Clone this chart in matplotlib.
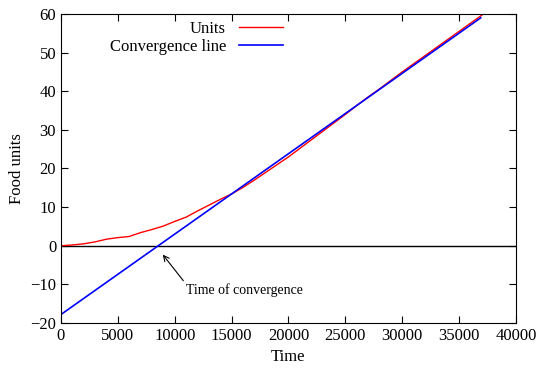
import matplotlib
matplotlib.use("Agg")
import matplotlib.pyplot as plt

plt.rcParams['font.family'] = ['Liberation Serif', 'DejaVu Serif']
plt.rcParams['mathtext.fontset'] = 'stix'

# food units over time
time = [0, 1000, 2000, 3000, 4000, 5000, 6000, 7000, 8000, 9000,
        10000, 11000, 12000, 13000, 14000, 15000, 16000, 17000, 18000, 19000,
        20000, 21000, 22000, 23000, 24000, 25000, 26000, 27000, 28000, 29000,
        30000, 31000, 32000, 33000, 34000, 35000, 36000, 37000]
units = [0.0, 0.2, 0.5, 1.0, 1.7, 2.1, 2.4, 3.4, 4.2, 5.1,
         6.3, 7.4, 9.0, 10.5, 12.0, 13.4, 15.1, 17.0, 19.0, 21.0,
         23.0, 25.2, 27.4, 29.6, 31.8, 34.0, 36.3, 38.5, 40.6, 42.8,
         45.0, 47.1, 49.2, 51.3, 53.4, 55.5, 57.6, 59.7]

conv_time = [0, 36900]
conv_units = [-17.8, 59.0]

fig = plt.figure(figsize=(5.46, 3.75), dpi=100)
ax = fig.add_axes([0.1117, 0.1387, 0.8333, 0.824])

ax.axhline(0, color='black', lw=1.0)
ax.plot(time, units, color='#ff0000', lw=1.0, label='Units')
ax.plot(conv_time, conv_units, color='#0000ff', lw=1.2, label='Convergence line')

ax.annotate('Time of convergence', xy=(8950, -2.3), xytext=(11000, -11.4),
            fontsize=10, va='center', ha='left',
            arrowprops=dict(arrowstyle='->', color='black', lw=0.8,
                            shrinkA=0, shrinkB=0, relpos=(0.0, 0.9)))

ax.set_xlim(0, 40000)
ax.set_ylim(-20, 60)
ax.set_xticks(range(0, 40001, 5000))
ax.set_yticks(range(-20, 61, 10))
ax.tick_params(direction='in', top=True, right=True, labelsize=12, length=5)
ax.set_xlabel('Time', fontsize=12)
ax.set_ylabel('Food units', fontsize=12)

ax.legend(loc='upper left', bbox_to_anchor=(0.085, 1.01), frameon=False,
          markerfirst=False, fontsize=12, handlelength=2.6,
          labelspacing=0.1, borderaxespad=0.2)
for t in ax.get_legend().get_texts():
    t.set_ha('right')

fig.savefig('out.png', dpi=100)
